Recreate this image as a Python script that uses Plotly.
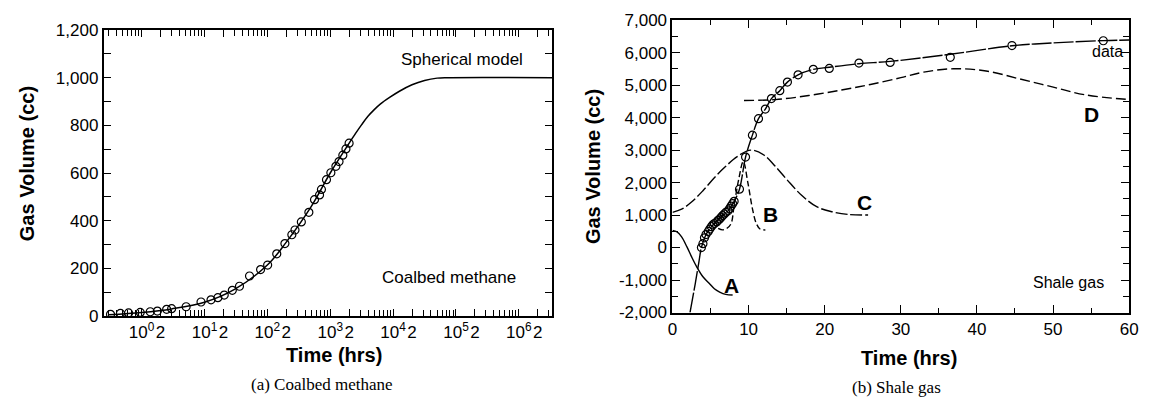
import plotly.graph_objects as go
import numpy as np

# ---------------- (a) Coalbed methane ----------------
cbm_model_x = [0.3, 1, 3, 10, 30, 100, 200, 500, 1000, 2000, 2512, 3162, 3981, 5012, 6310, 8913, 12590, 19950, 31620, 50120, 74100, 3.4e6]
cbm_model_y = [5, 15, 30, 58, 112, 214, 310, 460, 600, 725, 765, 803, 838, 866, 890, 918, 943, 970, 988, 998, 1000, 1000]

cbm_data_x = [0.32, 0.46, 0.62, 0.95, 1.37, 1.78, 2.5, 3.0, 5.1, 8.8, 12.7, 16.3, 20.6, 27.7, 36, 52, 78, 101,
              141, 190, 245, 275, 347, 457, 562, 676, 724, 871, 1023, 1230, 1380, 1585, 1778, 1995]
cbm_data_y = [7, 11, 13, 15, 18, 21, 28, 31, 39, 59, 68, 77, 88, 108, 125, 168, 195, 214,
              261, 304, 341, 361, 395, 435, 488, 508, 531, 572, 601, 628, 648, 675, 701, 725]

# ---------------- (b) Shale gas ----------------
shale_data_x = [3.8, 4.0, 4.2, 4.4, 4.7, 4.9, 5.1, 5.3, 5.5, 5.8, 6.0, 6.2, 6.4, 6.6, 6.8, 7.0, 7.3, 7.5, 7.7, 7.9, 8.1,
                8.8, 9.6, 10.5, 11.3, 12.2, 13.0, 14.1, 15.1, 16.5, 18.5, 20.6, 24.5, 28.6, 36.5, 44.6, 56.6]
shale_data_y = [0, 120, 300, 400, 496, 570, 643, 700, 740, 790, 837, 880, 936, 985, 1033, 1080, 1130, 1200, 1277, 1350, 1424,
                1796, 2785, 3460, 3968, 4262, 4585, 4829, 5093, 5318, 5485, 5515, 5680, 5700, 5856, 6219, 6366]

fit_x = [2.3, 3.0, 3.5, 3.8, 4.5, 5.5, 6.5, 7.3, 8.1, 8.8, 9.6, 10.5, 11.3, 12.2, 13.0, 14.1, 15.1, 16.5, 18.5,
         20.6, 24.5, 28.6, 36.5, 44.6, 50, 56.6, 60]
fit_y = [-2000, -1100, -400, 0, 440, 740, 960, 1130, 1424, 1796, 2785, 3460, 3968, 4262, 4585, 4829, 5093, 5318, 5485,
         5550, 5660, 5730, 5950, 6210, 6300, 6370, 6390]

curve_a_x = [0, 0.6, 1.2, 1.9, 2.5, 3.2, 4.0, 4.9, 5.5, 6.2, 7.0, 7.9]
curve_a_y = [525, 480, 330, 20, -280, -600, -900, -1120, -1270, -1370, -1440, -1460]

curve_b_x = [6.0, 6.6, 7.2, 7.7, 8.1, 8.7, 9.3, 9.9, 10.5, 11.0, 11.5, 12.2]
curve_b_y = [590, 545, 600, 740, 1300, 2100, 2650, 2000, 1200, 750, 570, 540]

curve_c_x = [0, 1.2, 2.5, 4, 5.5, 7, 8.5, 10.3, 12, 13.5, 15, 17, 19, 21, 23, 25.7]
curve_c_y = [1083, 1180, 1400, 1750, 2150, 2500, 2800, 3000, 2850, 2500, 2100, 1600, 1250, 1100, 1020, 1000]

curve_d_x = [9.4, 13.5, 17.9, 22.2, 26, 30, 33, 36.9, 41.2, 45.6, 49.9, 54.2, 60]
curve_d_y = [4526, 4555, 4680, 4850, 5020, 5230, 5400, 5503, 5436, 5192, 4946, 4702, 4555]

yticks_b = list(range(-2000, 7001, 1000))
yticks_b_text = [f"{v:,}" for v in yticks_b]  # plain hyphen minus

W, H = 1152, 409
def px(x):
    return x / W
def py(y):
    return 1 - y / H

FONT = "Liberation Sans, Arial, Helvetica, sans-serif"
SERIF = "Liberation Serif, Times New Roman, serif"

fig = go.Figure()

# left panel
fig.add_trace(go.Scatter(x=cbm_model_x, y=cbm_model_y, mode="lines", line=dict(color="black", width=1.5, shape="spline"),
                         xaxis="x", yaxis="y", showlegend=False))
fig.add_trace(go.Scatter(x=cbm_data_x, y=cbm_data_y, mode="markers",
                         marker=dict(symbol="circle-open", size=8, color="black", line=dict(width=1.2)),
                         xaxis="x", yaxis="y", showlegend=False))

# right panel
fig.add_trace(go.Scatter(x=curve_a_x, y=curve_a_y, mode="lines", line=dict(color="black", width=1.4, shape="spline"),
                         xaxis="x2", yaxis="y2", showlegend=False))
fig.add_trace(go.Scatter(x=curve_b_x, y=curve_b_y, mode="lines", line=dict(color="black", width=1.4, shape="spline", dash="6px,3px"),
                         xaxis="x2", yaxis="y2", showlegend=False))
fig.add_trace(go.Scatter(x=curve_c_x, y=curve_c_y, mode="lines", line=dict(color="black", width=1.4, shape="spline", dash="12px,3px"),
                         xaxis="x2", yaxis="y2", showlegend=False))
fig.add_trace(go.Scatter(x=curve_d_x, y=curve_d_y, mode="lines", line=dict(color="black", width=1.4, shape="spline", dash="10px,4px"),
                         xaxis="x2", yaxis="y2", showlegend=False))
fig.add_trace(go.Scatter(x=fit_x, y=fit_y, mode="lines", line=dict(color="black", width=1.4, shape="spline", dash="20px,2px"),
                         xaxis="x2", yaxis="y2", showlegend=False))
fig.add_trace(go.Scatter(x=shale_data_x, y=shale_data_y, mode="markers",
                         marker=dict(symbol="circle-open", size=8, color="black", line=dict(width=1.2)),
                         xaxis="x2", yaxis="y2", showlegend=False))

# log tick values for left x axis
major_vals, major_text, minor_vals = [], [], []
for e in range(-1, 7):
    for m in range(1, 10):
        v = m * 10 ** e
        if e >= 0 and m == 1:
            major_vals.append(v); major_text.append(f"10<sup>{e}</sup>")
        elif e >= 0 and m == 2:
            major_vals.append(v); major_text.append("2")
        else:
            minor_vals.append(v)

axis_common = dict(showline=True, linecolor="black", linewidth=2, mirror="ticks", ticks="inside",
                   tickcolor="black", tickwidth=1, showgrid=False, zeroline=False,
                   tickfont=dict(family=FONT, size=17, color="black"))

fig.update_layout(
    width=W, height=H, margin=dict(l=0, r=0, t=0, b=0),
    paper_bgcolor="white", plot_bgcolor="white",
    xaxis=dict(type="log", range=[np.log10(0.25), np.log10(3.4e6)], domain=[px(100), px(554)],
               tickmode="array", tickvals=major_vals, ticktext=major_text, ticklen=7, tickangle=0,
               minor=dict(ticks="inside", tickmode="array", tickvals=minor_vals, ticklen=6, tickcolor="black", tickwidth=1),
               anchor="y", **axis_common),
    yaxis=dict(range=[0, 1200], domain=[py(322), py(22)], tickvals=list(range(0, 1201, 200)), tickformat=",d",
               ticklen=7, minor=dict(ticks="inside", dtick=100, ticklen=7, tickcolor="black"),
               anchor="x", **axis_common),
    xaxis2=dict(range=[0, 60], domain=[px(675.7), px(1138)], tickvals=list(range(0, 61, 10)), ticklen=8, tickangle=0,
                minor=dict(ticks="inside", dtick=5, ticklen=5, tickcolor="black"),
                anchor="y2", **axis_common),
    yaxis2=dict(range=[-2000, 7000], domain=[py(318.3), py(11.7)], tickmode="array", tickvals=yticks_b,
                ticktext=yticks_b_text, ticklen=8, minor=dict(ticks="inside", dtick=500, ticklen=6, tickcolor="black"),
                anchor="x2", **axis_common),
)

ann = []
def add_text(text, x, y, size, bold=False, family=FONT, angle=0):
    t = f"<b>{text}</b>" if bold else text
    ann.append(dict(text=t, x=px(x), y=py(y), xref="paper", yref="paper", showarrow=False,
                    xanchor="center", yanchor="middle", textangle=angle,
                    font=dict(family=family, size=size, color="black")))

add_text("Gas Volume (cc)", 23, 162, 20, bold=True, angle=-90)
add_text("Gas Volume (cc)", 596, 165, 20, bold=True, angle=-90)
add_text("Time (hrs)", 333, 363, 20, bold=True)
add_text("Time (hrs)", 915, 366, 20, bold=True)
add_text("(a) Coalbed methane", 321, 394, 17, family=SERIF)
add_text("(b) Shale gas", 902, 397, 17, family=SERIF)
add_text("Spherical model", 463, 53, 17)
add_text("Coalbed methane", 449, 282, 17)
add_text("Shale gas", 1077, 287, 16)
add_text("data", 1116, 45, 16)
add_text("A", 735, 290, 21, bold=True)
add_text("B", 775, 216, 21, bold=True)
add_text("C", 870, 203, 21, bold=True)
add_text("D", 1100, 111, 21, bold=True)
fig.update_layout(annotations=ann)

fig.write_html("out.html")
